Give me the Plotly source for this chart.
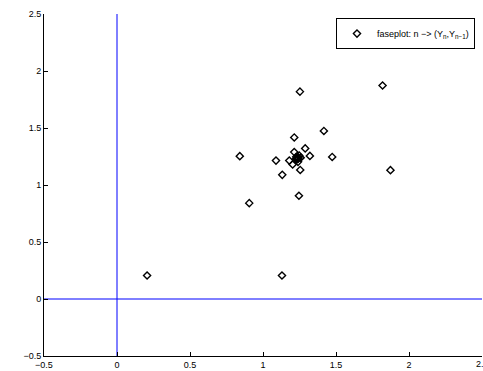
import plotly.graph_objects as go

# Iterates of the sequence Y_n (index n = 0, 1, 2, ...)
Y = [0.206, 0.206, 1.130, 1.873, 1.819, 1.253, 0.841, 0.906, 1.246, 1.474,
     1.417, 1.214, 1.089, 1.132, 1.255, 1.321, 1.289, 1.214, 1.180, 1.203,
     1.240, 1.258, 1.248, 1.228, 1.226, 1.236, 1.243, 1.239, 1.232, 1.233,
     1.238, 1.239, 1.236, 1.234, 1.236, 1.237, 1.237, 1.236, 1.236]

# Phase-plot pairs (Y_n, Y_{n-1})
x_vals = Y[1:]
y_vals = Y[:-1]

x_range = [-0.5, 2.5]
y_range = [-0.5, 2.5]
tick_vals = [-0.5, 0, 0.5, 1, 1.5, 2, 2.5]
tick_text = ["\u22120.5", "0", "0.5", "1", "1.5", "2", "2.5"]

FONT = "Liberation Sans, Arial, sans-serif"
BLUE = "#0000ff"

fig = go.Figure()

# Coordinate axes through the origin
fig.add_trace(go.Scatter(x=[0, 0], y=y_range, mode="lines",
                         line=dict(color=BLUE, width=1), showlegend=False,
                         hoverinfo="skip"))
fig.add_trace(go.Scatter(x=x_range, y=[0, 0], mode="lines",
                         line=dict(color=BLUE, width=1), showlegend=False,
                         hoverinfo="skip"))

fig.add_trace(go.Scatter(
    x=x_vals, y=y_vals, mode="markers",
    name="faseplot: n \u2212> (Y<sub>n</sub>,Y<sub>n\u22121</sub>)",
    marker=dict(symbol="diamond-open", size=5.5, color="black",
                line=dict(color="black", width=1.4)),
))

axis_common = dict(
    showgrid=False, zeroline=False,
    showline=True, linecolor="black", linewidth=1, mirror=False,
    ticks="inside", ticklen=4, tickcolor="black",
    tickvals=tick_vals, ticktext=tick_text,
    tickfont=dict(family=FONT, size=9, color="black"),
)

fig.update_xaxes(range=x_range, **axis_common)
fig.update_yaxes(range=y_range, **axis_common)

# Last x tick label sits on the right edge of the figure
fig.add_annotation(x=2.5, xref="x", y=0, yref="paper", yanchor="top",
                   xanchor="center", yshift=-1, text=tick_text[-1],
                   showarrow=False, font=dict(family=FONT, size=9, color="black"))

fig.update_layout(
    width=483, height=371,
    margin=dict(l=44, r=1, t=14, b=13),
    plot_bgcolor="white", paper_bgcolor="white",
    showlegend=True,
    legend=dict(
        x=0.984, y=0.988, xanchor="right", yanchor="top",
        bgcolor="white", bordercolor="black", borderwidth=1,
        font=dict(family=FONT, size=9, color="black"),
        tracegroupgap=0,
    ),
)

fig.write_html("out.html")
